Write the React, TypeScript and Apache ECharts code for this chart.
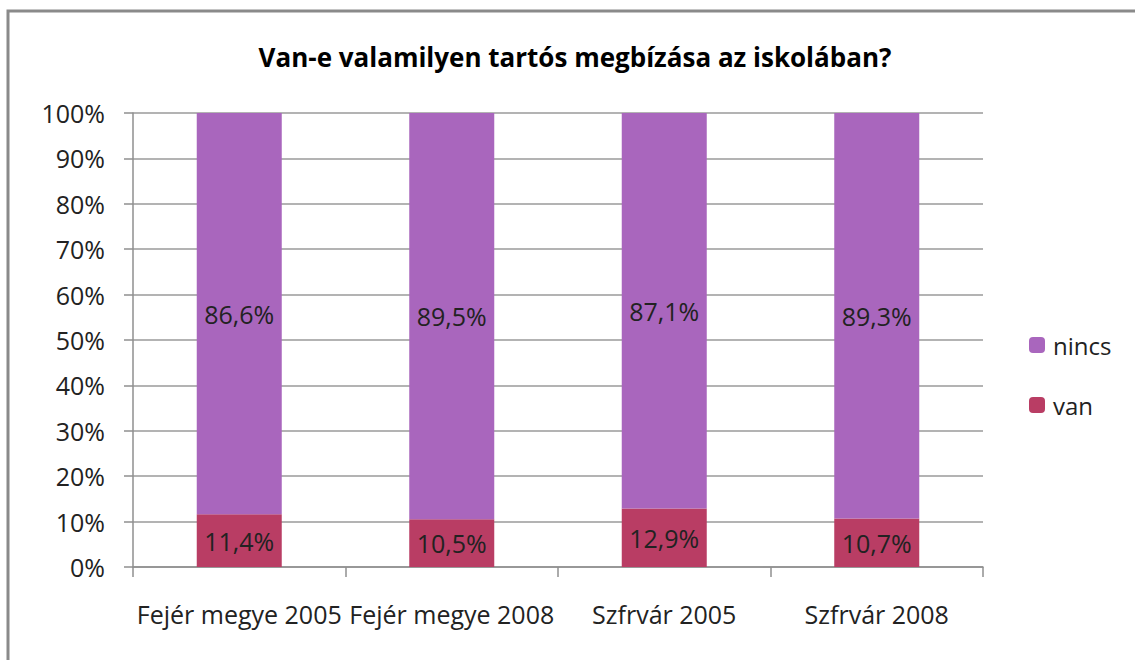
import React, { useEffect, useRef } from "react";
import * as echarts from "echarts";

const categories = ["Fejér megye 2005", "Fejér megye 2008", "Szfrvár 2005", "Szfrvár 2008"];
const vanValues = [11.4, 10.5, 12.9, 10.7];
const ninsValues = [86.6, 89.5, 87.1, 89.3];
const yTicks = [0, 10, 20, 30, 40, 50, 60, 70, 80, 90, 100];

const FONT = "'Open Sans', 'Noto Sans', sans-serif";

export default function App() {
  const ref = useRef<HTMLDivElement>(null);
  useEffect(() => {
    if (!ref.current) return;
    const chart = echarts.init(ref.current, null, { renderer: "svg" });
    const totals = categories.map((_, i) => vanValues[i] + ninsValues[i]);
    const mk = (arr: number[]) =>
      arr.map((v, i) => ({ value: (v / totals[i]) * 100, raw: v }));
    const labelFmt = (p: any) => p.data.raw.toFixed(1).replace(".", ",") + "%";
    chart.setOption({
      animation: false,
      backgroundColor: "#ffffff",
      title: {
        text: "Van-e valamilyen tartós megbízása az iskolában?",
        left: 575,
        textAlign: "center",
        top: 44,
        padding: 0,
        textStyle: { fontFamily: FONT, fontSize: 26, fontWeight: "bold", color: "#000" },
      },
      graphic: [
        {
          type: "rect",
          shape: { x: 8, y: 11, width: 1300, height: 800 },
          style: { fill: "none", stroke: "#8a8a8a", lineWidth: 3 },
          silent: true,
        },
      ],
      legend: {
        orient: "vertical",
        left: 1029,
        top: 333,
        padding: 0,
        itemWidth: 16,
        itemHeight: 16,
        itemGap: 36,
        data: ["nincs", "van"],
        textStyle: { fontFamily: FONT, fontSize: 24, color: "#222", padding: [0, 0, 0, 3] },
      },
      grid: { left: 133, right: 152, top: 113, bottom: 93 },
      xAxis: {
        type: "category",
        data: categories,
        axisLine: { lineStyle: { color: "#8f8f8f", width: 1.5 } },
        axisTick: { show: true, length: 10, lineStyle: { color: "#8f8f8f", width: 1.5 } },
        axisLabel: { fontFamily: FONT, fontSize: 25, color: "#222", margin: 34, interval: 0 },
      },
      yAxis: {
        type: "value",
        min: yTicks[0],
        max: yTicks[yTicks.length - 1],
        interval: 10,
        axisLine: { show: true, lineStyle: { color: "#8f8f8f", width: 1.5 } },
        axisTick: { show: true, length: 9, lineStyle: { color: "#8f8f8f", width: 1.5 } },
        splitLine: { lineStyle: { color: "#9a9a9a", width: 1.5 } },
        axisLabel: {
          fontFamily: FONT,
          fontSize: 25,
          color: "#222",
          margin: 28,
          formatter: "{value}%",
        },
      },
      series: [
        {
          name: "van",
          type: "bar",
          stack: "all",
          barWidth: "40%",
          data: mk(vanValues),
          itemStyle: { color: "#B93D64" },
          label: { show: true, position: "inside", formatter: labelFmt, fontFamily: FONT, fontSize: 25, color: "#222" },
        },
        {
          name: "nincs",
          type: "bar",
          stack: "all",
          barWidth: "40%",
          data: mk(ninsValues),
          itemStyle: { color: "#A966BD" },
          label: { show: true, position: "inside", formatter: labelFmt, fontFamily: FONT, fontSize: 25, color: "#222" },
        },
      ],
    });
    return () => chart.dispose();
  }, []);
  return (
    <div
      ref={ref}
      style={{ position: "fixed", left: 0, top: 0, width: 1135, height: 660 }}
    />
  );
}
